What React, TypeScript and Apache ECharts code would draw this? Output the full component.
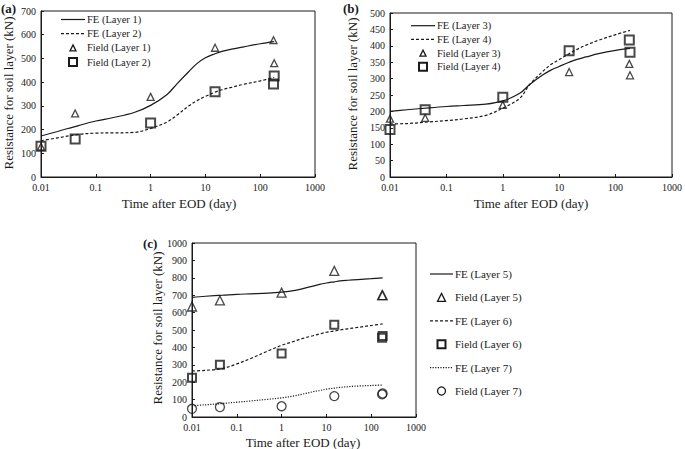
import React, { useEffect, useRef } from "react";
import * as echarts from "echarts";

// ---------- data ----------
const feTimes = [0.01, 0.02, 0.05, 0.1, 0.2, 0.5, 1, 2, 3, 5, 7, 10, 15, 20, 30, 50, 100, 180];
const fieldTimes = [0.01, 0.042, 1, 15, 175, 180];

// panel (a)
const feLayer1 = [173, 192, 218, 236, 250, 272, 302, 348, 392, 445, 478, 503, 520, 530, 539, 549, 562, 571];
const feLayer2 = [153, 165, 180, 185, 186, 188, 205, 232, 260, 300, 322, 340, 358, 368, 378, 391, 405, 420];
const fieldLayer1 = [128, 268, 338, 545, 577, 480];
const fieldLayer2 = [130, 160, 228, 360, 392, 426];

// panel (b)
const feLayer3 = [200, 205, 211, 215, 218, 222, 232, 255, 282, 310, 325, 337, 350, 358, 366, 376, 386, 392];
const feLayer4 = [162, 163, 168, 172, 177, 188, 210, 240, 282, 320, 342, 358, 376, 388, 402, 417, 434, 447];
const fieldLayer3 = [178, 180, 220, 320, 345, 310];
const fieldLayer4 = [145, 205, 243, 385, 418, 380];

// panel (c)
const feLayer5 = [688, 694, 700, 705, 708, 712, 718, 728, 738, 752, 762, 770, 777, 782, 786, 790, 795, 800];
const feLayer6 = [265, 268, 280, 305, 335, 380, 412, 437, 452, 467, 477, 487, 494, 500, 507, 515, 526, 535];
const feLayer7 = [65, 70, 78, 85, 92, 102, 110, 122, 132, 145, 152, 160, 166, 170, 174, 178, 181, 184];
const fieldLayer5 = [635, 670, 715, 840, 700, 700];
const fieldLayer6 = [225, 300, 365, 530, 455, 465];
const fieldLayer7 = [47, 57, 62, 120, 130, 135];

const xTickValues = [0.01, 0.1, 1, 10, 100, 1000];
const yMaxes = [700, 500, 1000];
const yIntervals = [100, 50, 100];

const xTitle = "Time after EOD (day)";
const yTitle = "Resistance for soil layer (kN)";
const panelLabels = ["(a)", "(b)", "(c)"];

// ---------- style ----------
const FONT = "'Liberation Serif', 'Times New Roman', serif";
const INK = "#1a1a1a";

const zip = (xs: number[], ys: number[]) => xs.map((x, i) => [x, ys[i]]);

const grids = [
  { left: 41, top: 11, width: 274, height: 166 },
  { left: 390, top: 13, width: 283, height: 164 },
  { left: 192, top: 243, width: 224, height: 174 },
];

type Kind = "solid" | "dashed" | "dotted" | "triangle" | "rect" | "circle";

const dashFor = (k: Kind): any =>
  k === "dashed" ? [3, 2] : k === "dotted" ? [1.2, 1.4] : "solid";

const lineSeries = (name: string, gi: number, ys: number[], k: Kind) => ({
  name,
  type: "line",
  xAxisIndex: gi,
  yAxisIndex: gi,
  data: zip(feTimes, ys),
  smooth: 0.35,
  symbol: "none",
  showSymbol: false,
  lineStyle: { color: INK, width: 1.2, type: dashFor(k) },
  z: 2,
});

const scatterSeries = (name: string, gi: number, ys: number[], k: Kind, size: number) => ({
  name,
  type: "scatter",
  xAxisIndex: gi,
  yAxisIndex: gi,
  data: zip(fieldTimes, ys),
  symbol: k,
  symbolSize: size,
  itemStyle: {
    color: "rgba(255,255,255,0)",
    borderColor: INK,
    borderWidth: k === "rect" ? 2 : 1.3,
  },
  z: 3,
});

function legendItem(
  k: Kind,
  label: string,
  x0: number,
  cy: number,
  lineLen: number,
  fontSize: number,
  markSize: number
): any[] {
  const out: any[] = [];
  const cx = x0 + lineLen / 2;
  if (k === "solid" || k === "dashed" || k === "dotted") {
    out.push({
      type: "line",
      shape: { x1: x0, y1: cy, x2: x0 + lineLen, y2: cy },
      style: {
        stroke: INK,
        lineWidth: 1.2,
        lineDash: k === "solid" ? null : dashFor(k),
      },
    });
  } else if (k === "triangle") {
    const h = markSize / 2;
    out.push({
      type: "polygon",
      shape: { points: [[cx, cy - h], [cx + h, cy + h], [cx - h, cy + h]] },
      style: { fill: "none", stroke: INK, lineWidth: 1.3 },
    });
  } else if (k === "rect") {
    const h = markSize / 2;
    out.push({
      type: "rect",
      shape: { x: cx - h, y: cy - h, width: markSize, height: markSize },
      style: { fill: "none", stroke: INK, lineWidth: 2 },
    });
  } else {
    out.push({
      type: "circle",
      shape: { cx, cy, r: markSize / 2 },
      style: { fill: "none", stroke: INK, lineWidth: 1.3 },
    });
  }
  out.push({
    type: "text",
    x: x0 + lineLen + 2,
    y: cy,
    style: {
      text: label,
      fontSize,
      fontFamily: FONT,
      fill: INK,
      align: "left",
      verticalAlign: "middle",
    },
  });
  return out;
}

const legendA: [Kind, string][] = [
  ["solid", "FE (Layer 1)"],
  ["dashed", "FE (Layer 2)"],
  ["triangle", "Field (Layer 1)"],
  ["rect", "Field (Layer 2)"],
];
const legendB: [Kind, string][] = [
  ["solid", "FE (Layer 3)"],
  ["dashed", "FE (Layer 4)"],
  ["triangle", "Field (Layer 3)"],
  ["rect", "Field (Layer 4)"],
];
const legendC: [Kind, string][] = [
  ["solid", "FE (Layer 5)"],
  ["triangle", "Field (Layer 5)"],
  ["dashed", "FE (Layer 6)"],
  ["rect", "Field (Layer 6)"],
  ["dotted", "FE (Layer 7)"],
  ["circle", "Field (Layer 7)"],
];

export default function App() {
  const ref = useRef<HTMLDivElement>(null);

  useEffect(() => {
    if (!ref.current) return;
    const chart = echarts.init(ref.current, undefined, { renderer: "svg" });

    const xAxis = grids.map((_, i) => ({
      gridIndex: i,
      type: "log",
      logBase: 10,
      min: xTickValues[0],
      max: xTickValues[xTickValues.length - 1],
      axisLine: { show: true, lineStyle: { color: INK, width: 1 } },
      axisTick: { show: true, inside: true, length: 3, lineStyle: { color: INK } },
      minorTick: { show: false },
      axisLabel: {
        fontSize: 10,
        fontFamily: FONT,
        color: INK,
        margin: 5,
        formatter: (v: number) => String(Number(v.toPrecision(3))),
      },
      splitLine: { show: false },
    }));

    const yAxis = grids.map((_, i) => ({
      gridIndex: i,
      type: "value",
      min: 0,
      max: yMaxes[i],
      interval: yIntervals[i],
      axisLine: { show: true, lineStyle: { color: INK, width: 1 } },
      axisTick: { show: true, inside: true, length: 3, lineStyle: { color: INK } },
      axisLabel: {
        fontSize: 10,
        fontFamily: FONT,
        color: INK,
        margin: 5,
        formatter: (v: number) => String(v),
      },
      splitLine: { show: false },
    }));

    const graphic: any[] = [];
    legendA.forEach(([k, t], i) =>
      graphic.push(...legendItem(k, t, 61, 19.5 + i * 14.2, 24, 10.5, k === "rect" ? 8 : 6))
    );
    legendB.forEach(([k, t], i) =>
      graphic.push(...legendItem(k, t, 411, 25.7 + i * 13.7, 24, 10.5, k === "rect" ? 8 : 6))
    );
    legendC.forEach(([k, t], i) =>
      graphic.push(...legendItem(k, t, 430, 274 + i * 23.4, 23, 11, 8))
    );

    const xTitlePos = [
      [179, 203],
      [531, 203],
      [303, 442],
    ];
    const yTitlePos = [
      [8, 93],
      [352, 94],
      [157, 328],
    ];
    const labelPos = [
      [1, 8],
      [343, 8],
      [143, 243],
    ];
    for (let i = 0; i < 3; i++) {
      graphic.push({
        type: "text",
        x: xTitlePos[i][0],
        y: xTitlePos[i][1],
        style: {
          text: xTitle,
          fontSize: 13,
          fontFamily: FONT,
          fill: INK,
          align: "center",
          verticalAlign: "middle",
        },
      });
      graphic.push({
        type: "text",
        x: yTitlePos[i][0],
        y: yTitlePos[i][1],
        rotation: Math.PI / 2,
        style: {
          text: yTitle,
          fontSize: 13,
          fontFamily: FONT,
          fill: INK,
          align: "center",
          verticalAlign: "middle",
        },
      });
      graphic.push({
        type: "text",
        x: labelPos[i][0],
        y: labelPos[i][1],
        style: {
          text: panelLabels[i],
          fontSize: 13,
          fontWeight: "bold",
          fontFamily: FONT,
          fill: INK,
          align: "left",
          verticalAlign: "middle",
        },
      });
    }

    chart.setOption({
      animation: false,
      backgroundColor: "#ffffff",
      textStyle: { fontFamily: FONT },
      grid: grids.map((g) => ({
        ...g,
        show: true,
        borderColor: INK,
        borderWidth: 1,
        backgroundColor: "rgba(0,0,0,0)",
        containLabel: false,
      })),
      xAxis,
      yAxis,
      series: [
        lineSeries("FE (Layer 1)", 0, feLayer1, "solid"),
        lineSeries("FE (Layer 2)", 0, feLayer2, "dashed"),
        scatterSeries("Field (Layer 1)", 0, fieldLayer1, "triangle", 7),
        scatterSeries("Field (Layer 2)", 0, fieldLayer2, "rect", 9),
        lineSeries("FE (Layer 3)", 1, feLayer3, "solid"),
        lineSeries("FE (Layer 4)", 1, feLayer4, "dashed"),
        scatterSeries("Field (Layer 3)", 1, fieldLayer3, "triangle", 7),
        scatterSeries("Field (Layer 4)", 1, fieldLayer4, "rect", 9),
        lineSeries("FE (Layer 5)", 2, feLayer5, "solid"),
        lineSeries("FE (Layer 6)", 2, feLayer6, "dashed"),
        lineSeries("FE (Layer 7)", 2, feLayer7, "dotted"),
        scatterSeries("Field (Layer 5)", 2, fieldLayer5, "triangle", 9),
        scatterSeries("Field (Layer 6)", 2, fieldLayer6, "rect", 8),
        scatterSeries("Field (Layer 7)", 2, fieldLayer7, "circle", 9),
      ],
      graphic,
    });

    return () => chart.dispose();
  }, []);

  return (
    <div
      ref={ref}
      style={{
        position: "absolute",
        left: 0,
        top: 0,
        width: 685,
        height: 449,
        background: "#fff",
      }}
    />
  );
}
